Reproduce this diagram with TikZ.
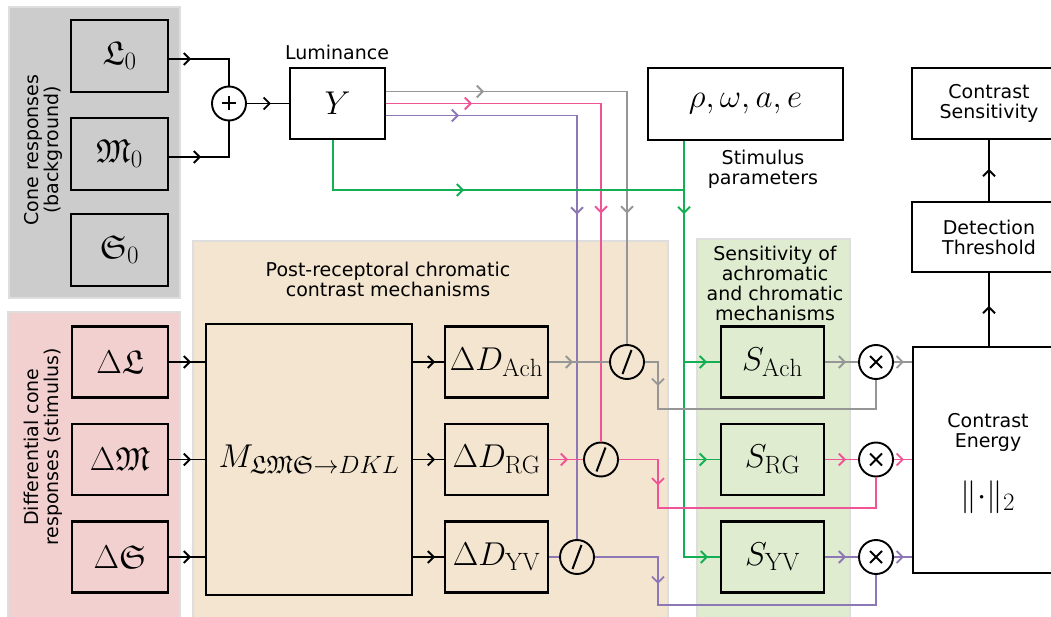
\RequirePackage{fix-cm}
\documentclass[tikz,border=0pt]{standalone}
\usepackage{fontspec}
\setsansfont{DejaVu Sans}
\usepackage{amssymb}
\DeclareFontFamily{U}{euf}{}
\DeclareFontShape{U}{euf}{m}{n}{<-6>eufm5<6-8>eufm7<8->eufm10}{}
\DeclareMathSizes{33}{33}{25}{19}
\usetikzlibrary{arrows.meta,decorations.markings}
\definecolor{cgray}{RGB}{150,150,150}
\definecolor{cpink}{RGB}{239,85,150}
\definecolor{cpurple}{RGB}{140,120,180}
\definecolor{cgreen}{RGB}{20,175,85}
\definecolor{pgray}{RGB}{204,204,204}
\definecolor{ppink}{RGB}{243,208,208}
\definecolor{ptan}{RGB}{243,229,207}
\definecolor{pgreen}{RGB}{223,236,208}
\definecolor{pedge}{RGB}{222,222,222}
\newcommand\txtfont{\sffamily\fontsize{19}{20}\selectfont}
\newcommand\mathfnt{\fontsize{33}{35}\selectfont}
\tikzset{
  panel/.style={fill=#1, draw=pedge, line width=2pt},
  blk/.style={draw, line width=2.2pt, inner sep=0pt, font=\mathfnt},
  lbl/.style={font=\txtfont, align=center, inner sep=0pt},
  conn/.style={line width=1.9pt},
  arr/.style={postaction={decorate, decoration={markings, mark=at position #1 with {\arrow{Straight Barb[length=6pt,width=12pt]}}}}},
  circ/.style={circle, draw, line width=1.9pt, minimum size=34pt, inner sep=0pt},
  oplus/.style={circ, path picture={\draw[line width=2pt]
      ([xshift=-7pt]path picture bounding box.center) -- ([xshift=7pt]path picture bounding box.center)
      ([yshift=-7pt]path picture bounding box.center) -- ([yshift=7pt]path picture bounding box.center);}},
  otimes/.style={circ, path picture={\draw[line width=2pt]
      ([shift={(-6pt,-6pt)}]path picture bounding box.center) -- ([shift={(6pt,6pt)}]path picture bounding box.center)
      ([shift={(-6pt,6pt)}]path picture bounding box.center) -- ([shift={(6pt,-6pt)}]path picture bounding box.center);}},
  odiv/.style={circ, path picture={\draw[line width=2pt]
      ([shift={(-4.5pt,-12pt)}]path picture bounding box.center) -- ([shift={(4.5pt,12pt)}]path picture bounding box.center);}},
}
\begin{document}
\begin{tikzpicture}[x=1pt,y=-1pt]
\useasboundingbox (0,0) rectangle (1051,617);
% panels
\draw[panel=pgray] (9,7) rectangle (180,298);
\draw[panel=ppink] (8,312) rectangle (180,630);
\draw[panel=ptan] (193,241) rectangle (668,630);
\draw[panel=pgreen] (697,239) rectangle (850,630);
% labels
\node[lbl, rotate=90] (conelbl) at (43,150) {Cone responses\\(background)};
\node[lbl, rotate=90] (difflbl) at (43,447) {Differential cone\\responses (stimulus)};
\node[lbl] (postlbl) at (388,279) {Post-receptoral chromatic\\contrast mechanisms};
\node[lbl] (senslbl) at (775,283) {Sensitivity of\\achromatic\\and chromatic\\mechanisms};
\node[lbl] (lumlbl) at (337,52) {Luminance};
\node[lbl] (stimlbl) at (763,169) {Stimulus\\parameters};
% boxes
\node[blk, fill=pgray, minimum width=97pt, minimum height=72pt] (L0) at (119.5,56) {$\mathfrak{L}_0$};
\node[blk, fill=pgray, minimum width=97pt, minimum height=72pt] (M0) at (119.5,154) {$\mathfrak{M}_0$};
\node[blk, fill=pgray, minimum width=97pt, minimum height=72pt] (S0) at (119.5,250) {$\mathfrak{S}_0$};
\node[oplus] (plus) at (229,103.5) {};
\node[blk, minimum width=95pt, minimum height=71pt] (Y) at (337.5,103.5) {$Y$};
\node[blk, minimum width=195pt, minimum height=72pt] (rho) at (745.5,104) {$\rho,\omega,a,e$};
\node[blk, font=\txtfont, align=center, minimum width=154pt, minimum height=71pt] (CS) at (989,103.5) {Contrast\\Sensitivity};
\node[blk, font=\txtfont, align=center, minimum width=154pt, minimum height=70pt] (DT) at (989,237) {Detection\\Threshold};
\node[blk, minimum width=152pt, minimum height=226pt] (CE) at (989,460) {};
\node[lbl] (celbl) at (988,432) {Contrast\\Energy};
\node[font=\mathfnt, inner sep=0pt] (norm) at (988,497) {$\|{\cdot}\|_2$};
\node[blk, fill=ppink, minimum width=96pt, minimum height=71pt] (dL) at (120,362) {$\Delta\mathfrak{L}$};
\node[blk, fill=ppink, minimum width=96pt, minimum height=71pt] (dM) at (120,459.5) {$\Delta\mathfrak{M}$};
\node[blk, fill=ppink, minimum width=96pt, minimum height=71pt] (dS) at (120,557) {$\Delta\mathfrak{S}$};
\node[blk, fill=ptan, minimum width=206pt, minimum height=271pt] (Mx) at (309,459.5) {$M_{\mathfrak{LMS}\to DKL}$};
\node[blk, fill=ptan, minimum width=103pt, minimum height=71pt] (DA) at (496.5,362) {$\Delta D_{\mathrm{Ach}}$};
\node[blk, fill=ptan, minimum width=103pt, minimum height=71pt] (DR) at (496.5,459.5) {$\Delta D_{\mathrm{RG}}$};
\node[blk, fill=ptan, minimum width=103pt, minimum height=71pt] (DY) at (496.5,557) {$\Delta D_{\mathrm{YV}}$};
\node[odiv] (divA) at (627,362) {};
\node[odiv] (divR) at (601,459.5) {};
\node[odiv] (divY) at (577,557) {};
\node[blk, fill=pgreen, minimum width=103pt, minimum height=71pt] (SA) at (772.5,362) {$S_{\mathrm{Ach}}$};
\node[blk, fill=pgreen, minimum width=103pt, minimum height=71pt] (SR) at (772.5,459.5) {$S_{\mathrm{RG}}$};
\node[blk, fill=pgreen, minimum width=103pt, minimum height=71pt] (SY) at (772.5,557) {$S_{\mathrm{YV}}$};
\node[otimes] (mulA) at (876,362) {};
\node[otimes] (mulR) at (876,459.5) {};
\node[otimes] (mulY) at (876,557) {};
% coordinates
\coordinate (gj) at (684,190);
\coordinate (ga) at (658,409);
\coordinate (gr) at (658,508);
\coordinate (gy) at (658,605);
% connectors: luminance
\draw[conn, arr=22pt] ([yshift=-3pt]L0.east) -| (plus.north);
\draw[conn, arr=32pt] ([yshift=-3pt]M0.east) -| (plus.south);
\draw[conn, arr=24pt] (plus.east) -- (Y.west);
\draw[conn, cgray, arr=98pt, arr=363pt] ([yshift=12pt]Y.east) -| (divA.north);
\draw[conn, cpink, arr=86pt, arr=325pt] (Y.east) -| (divR.north);
\draw[conn, cpurple, arr=73pt, arr=290pt] ([yshift=-12pt]Y.east) -| (divY.north);
% green
\draw[conn, cgreen, arr=181pt] ([xshift=-4.5pt]Y.south) |- (gj);
\draw[conn, cgreen, arr=73pt, arr=440pt] ([xshift=-61.5pt]rho.south) |- (SY.west);
\draw[conn, cgreen, arr=23pt] (SA.west -| gj) -- (SA.west);
\draw[conn, cgreen, arr=23pt] (SR.west -| gj) -- (SR.west);
% cone -> M
\draw[conn, arr=22pt] (dL.east) -- (dL.east -| Mx.west);
\draw[conn, arr=22pt] (dM.east) -- (dM.east -| Mx.west);
\draw[conn, arr=22pt] (dS.east) -- (dS.east -| Mx.west);
% M -> D
\draw[conn, arr=22pt] (DA.west -| Mx.east) -- (DA.west);
\draw[conn, arr=22pt] (DR.west -| Mx.east) -- (DR.west);
\draw[conn, arr=22pt] (DY.west -| Mx.east) -- (DY.west);
% D -> div
\draw[conn, cgray, arr=24pt] (DA.east) -- (divA.west);
\draw[conn, cpink, arr=19pt] (DR.east) -- (divR.west);
\draw[conn, cpurple, arr=10pt] (DY.east) -- (divY.west);
% div -> mul
\draw[conn, cgray, arr=37pt] (divA.east) -| (ga) -| (mulA.south);
\draw[conn, cpink, arr=65pt] (divR.east) -| (gr) -| (mulR.south);
\draw[conn, cpurple, arr=90pt] (divY.east) -| (gy) -| (mulY.south);
% S -> mul
\draw[conn, cgray, arr=21pt] (SA.east) -- (mulA.west);
\draw[conn, cpink, arr=21pt] (SR.east) -- (mulR.west);
\draw[conn, cpurple, arr=21pt] (SY.east) -- (mulY.west);
% mul -> CE
\draw[conn, cgray, arr=10pt] (mulA.east) -- (mulA.east -| CE.west);
\draw[conn, cpink, arr=10pt] (mulR.east) -- (mulR.east -| CE.west);
\draw[conn, cpurple, arr=10pt] (mulY.east) -- (mulY.east -| CE.west);
% output chain
\draw[conn, arr=40pt] (CE.north) -- (DT.south);
\draw[conn, arr=32pt] (DT.north) -- (CS.south);
\end{tikzpicture}
\end{document}
